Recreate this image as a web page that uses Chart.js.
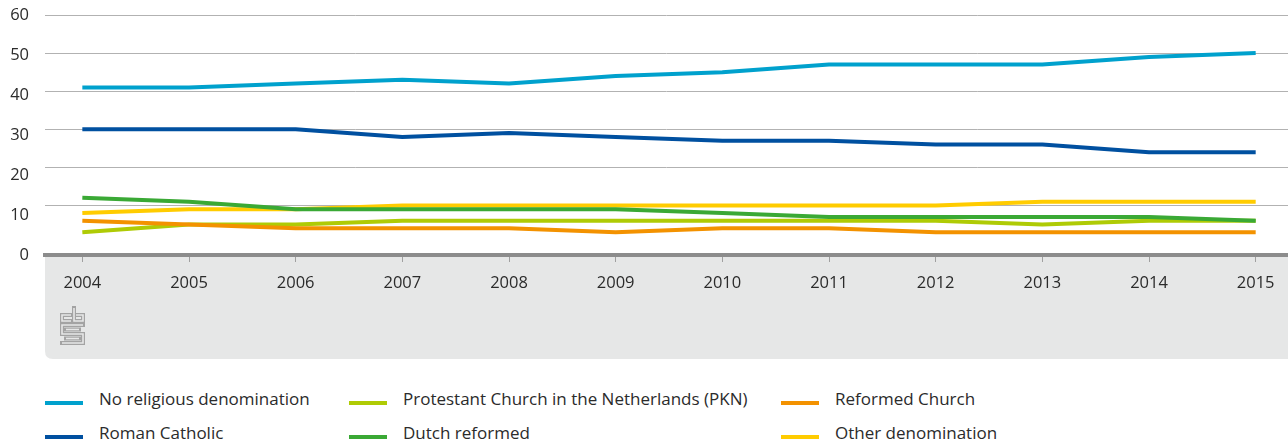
<!DOCTYPE html>
<html><head><meta charset="utf-8">
<script src="https://cdn.jsdelivr.net/npm/chart.js@4.4.1/dist/chart.umd.min.js"></script>
<style>
html,body{margin:0;padding:0;background:#fff;}
#wrap{position:relative;width:1288px;height:444px;overflow:hidden;font-family:'Open Sans',sans-serif;}
#cbox{position:absolute;left:0;top:0;width:1288px;height:362px;}
.lg{position:absolute;font-size:17px;color:#2b2b2b;white-space:nowrap;line-height:20px;}
.sw{position:absolute;width:38px;height:4px;}
</style></head><body>
<div id="wrap"><div id="cbox"><canvas id="cv"></canvas></div><div id="legend"></div></div>
<script>
// ---- data ----
const years = [2004, 2005, 2006, 2007, 2008, 2009, 2010, 2011, 2012, 2013, 2014, 2015];
const noReligion        = [41, 41, 42, 43, 42, 44, 45, 47, 47, 47, 49, 50];
const romanCatholic     = [30, 30, 30, 28, 29, 28, 27, 27, 26, 26, 24, 24];
const pkn               = [3, 5, 5, 6, 6, 6, 6, 6, 6, 5, 6, 6];
const dutchReformed     = [12, 11, 9, 9, 9, 9, 8, 7, 7, 7, 7, 6];
const reformedChurch    = [6, 5, 4, 4, 4, 3, 4, 4, 3, 3, 3, 3];
const otherDenomination = [8, 9, 9, 10, 10, 10, 10, 10, 10, 11, 11, 11];
const yTickValues = [0, 10, 20, 30, 40, 50, 60];
const gridValues  = [10, 20, 30, 40, 50, 60];
const seriesNames = ['No religious denomination', 'Roman Catholic', 'Protestant Church in the Netherlands (PKN)', 'Dutch reformed', 'Reformed Church', 'Other denomination'];

// ---- styles ----
const seriesValues = [noReligion, romanCatholic, pkn, dutchReformed, reformedChurch, otherDenomination];
const colors = ['#00a1cd', '#0050a0', '#afcb05', '#3aa935', '#f39200', '#ffcc00'];
const drawOrder = [6, 5, 4, 1, 2, 3];
const FONT = "'Open Sans', sans-serif";
const BOX_BG = '#e6e7e7';

const datasets = seriesValues.map((vals, i) => ({
  label: seriesNames[i],
  data: vals.map((v, j) => ({x: years[j], y: v})),
  borderColor: colors[i],
  backgroundColor: colors[i],
  borderWidth: 4,
  pointRadius: 0,
  pointHoverRadius: 0,
  tension: 0,
  fill: false,
  borderJoinStyle: 'round',
  order: drawOrder[i]
}));

const bgPlugin = {
  id: 'bgbox',
  beforeDraw(chart) {
    const {ctx, chartArea} = chart;
    const l = chartArea.left, t = chartArea.bottom, r = chart.width, b = chartArea.bottom + 104, rad = 8;
    ctx.save();
    ctx.fillStyle = BOX_BG;
    ctx.beginPath();
    ctx.moveTo(l, t);
    ctx.lineTo(r, t);
    ctx.lineTo(r, b);
    ctx.lineTo(l + rad, b);
    ctx.quadraticCurveTo(l, b, l, b - rad);
    ctx.closePath();
    ctx.fill();
    // cbs logo
    const paths = [
      [[71, 315], [62, 315], [62, 321], [71, 321]],
      [[74, 308], [74, 321], [83, 321], [83, 315], [76, 315]],
      [[83, 325], [62, 325], [62, 334], [83, 334], [83, 343], [62, 343]],
      [[66, 329.5], [79, 329.5]],
      [[66, 338.5], [79, 338.5]]
    ];
    ctx.lineJoin = 'miter';
    paths.forEach(p => {
      ctx.beginPath();
      p.forEach((pt, k) => k ? ctx.lineTo(pt[0], pt[1]) : ctx.moveTo(pt[0], pt[1]));
      ctx.strokeStyle = '#a3a3a3'; ctx.lineWidth = 4; ctx.lineCap = 'square'; ctx.stroke();
    });
    paths.forEach(p => {
      ctx.beginPath();
      p.forEach((pt, k) => k ? ctx.lineTo(pt[0], pt[1]) : ctx.moveTo(pt[0], pt[1]));
      ctx.strokeStyle = BOX_BG; ctx.lineWidth = 1.6; ctx.lineCap = 'butt'; ctx.stroke();
    });
    ctx.restore();
  }
};

new Chart(document.getElementById('cv'), {
  type: 'line',
  data: { datasets },
  plugins: [bgPlugin],
  options: {
    responsive: true,
    maintainAspectRatio: false,
    animation: false,
    events: [],
    layout: { padding: { top: 15, left: 0, right: 0, bottom: 0 } },
    plugins: { legend: { display: false }, tooltip: { enabled: false } },
    scales: {
      x: {
        type: 'linear',
        min: 2003.65,
        max: 2015.303,
        afterBuildTicks: s => { s.ticks = years.map(v => ({value: v})); },
        afterFit: s => { s.height = 107; },
        border: { display: true, color: '#8c8c8c', width: 4 },
        grid: { display: true, drawOnChartArea: false, drawTicks: true, tickLength: 7, tickColor: '#a0a0a0', tickWidth: 1, color: '#a0a0a0' },
        ticks: { color: '#2b2b2b', font: { family: FONT, size: 16.5 }, padding: 11, maxRotation: 0, autoSkip: false, callback: v => String(v) }
      },
      y: {
        position: 'left',
        weight: 0,
        min: -3,
        max: 60,
        afterBuildTicks: s => { s.ticks = gridValues.map(v => ({value: v})); },
        afterFit: s => { s.width = 16; },
        border: { display: false },
        grid: { color: '#b2b2b2', lineWidth: 1, drawTicks: false },
        ticks: { display: false }
      },
      y2: {
        position: 'left',
        weight: 1,
        min: 0,
        max: 60,
        afterBuildTicks: s => { s.ticks = yTickValues.map(v => ({value: v})); },
        afterFit: s => { s.width = 29; },
        border: { display: false },
        grid: { display: false, drawTicks: false },
        ticks: { color: '#2b2b2b', font: { family: FONT, size: 16.5 }, padding: 0 }
      }
    }
  }
});

// ---- legend (column-major, 2 rows x 3 columns) ----
const legendCols = [{sw: 45, tx: 99}, {sw: 349, tx: 403}, {sw: 781, tx: 835}];
const legendRows = [{ty: 389, sy: 401}, {ty: 423, sy: 435}];
const lg = document.getElementById('legend');
seriesNames.forEach((name, i) => {
  const c = legendCols[Math.floor(i / 2)], r = legendRows[i % 2];
  const sw = document.createElement('div');
  sw.className = 'sw'; sw.style.left = c.sw + 'px'; sw.style.top = r.sy + 'px'; sw.style.background = colors[i];
  const tx = document.createElement('div');
  tx.className = 'lg'; tx.style.left = c.tx + 'px'; tx.style.top = r.ty + 'px'; tx.textContent = name;
  lg.appendChild(sw); lg.appendChild(tx);
});
</script>
</body></html>
